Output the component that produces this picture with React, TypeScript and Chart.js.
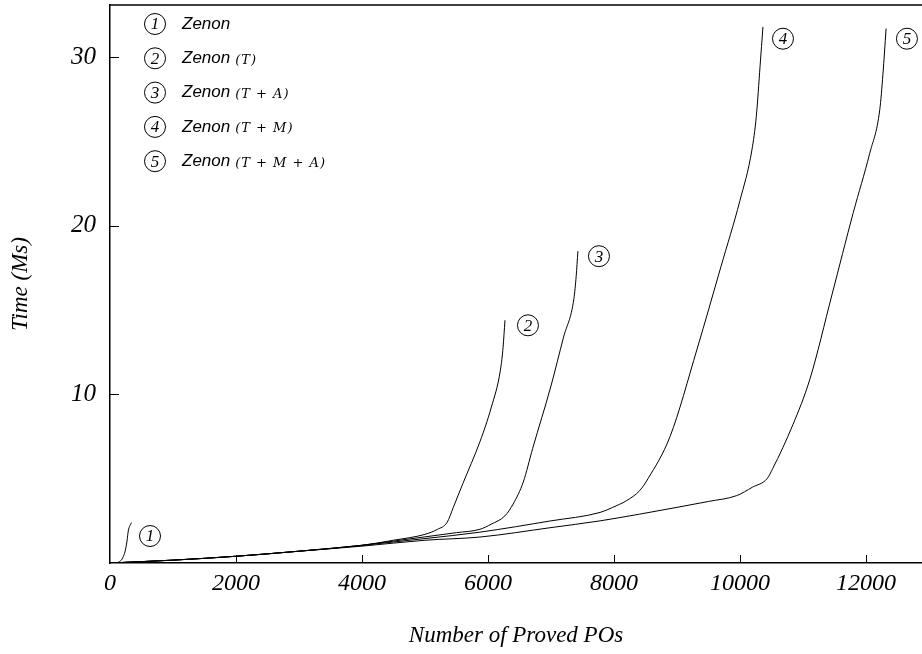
import React, { useEffect, useRef } from 'react';
import { Chart, registerables } from 'chart.js';

Chart.register(...registerables);

const xTicks = [0, 2000, 4000, 6000, 8000, 10000, 12000];
const yTicks = [10, 20, 30];
const xMax = 12890;
const yMax = 33.1;

const zenonX = [0, 100, 160, 200, 240, 270, 290, 340];
const zenonY = [0, 0.02, 0.1, 0.3, 0.7, 1.3, 1.9, 2.4];

const zenonTX = [0, 1000, 2000, 3000, 4000, 4500, 5000, 5200, 5350, 5450, 5600, 5873, 6050, 6200, 6240, 6270];
const zenonTY = [0, 0.17, 0.4, 0.7, 1.05, 1.35, 1.7, 2.0, 2.4, 3.3, 4.7, 7.2, 9.2, 11.5, 12.8, 14.4];

const zenonTAX = [0, 1000, 2000, 3000, 4000, 4500, 5000, 5500, 5873, 6050, 6270, 6400, 6560, 6710, 7000, 7200, 7365, 7400, 7428];
const zenonTAY = [0, 0.17, 0.4, 0.7, 1.05, 1.3, 1.55, 1.8, 2.0, 2.3, 2.8, 3.5, 4.8, 6.8, 10.5, 13.4, 15.7, 17.0, 18.5];

const zenonTMX = [0, 1000, 2000, 3000, 4000, 5000, 5873, 7000, 7780, 7980, 8200, 8410, 8540, 8890, 9320, 9700, 10000, 10190, 10260, 10320, 10365];
const zenonTMY = [0, 0.17, 0.4, 0.7, 1.05, 1.45, 1.83, 2.5, 3.0, 3.3, 3.7, 4.3, 5.0, 7.5, 12.7, 17.6, 21.5, 24.5, 26.5, 29.5, 31.8];

const zenonTMAX = [0, 1000, 2000, 3000, 4000, 5000, 5873, 7000, 7780, 8410, 9000, 9500, 9950, 10200, 10430, 10520, 10840, 11110, 11460, 11800, 12060, 12220, 12270, 12320];
const zenonTMAY = [0, 0.17, 0.4, 0.7, 1.0, 1.35, 1.54, 2.1, 2.5, 2.9, 3.3, 3.65, 4.0, 4.5, 5.0, 5.6, 8.2, 10.9, 15.9, 20.8, 24.3, 26.9, 29.0, 31.7];

const seriesNames = ['Zenon', 'Zenon', 'Zenon', 'Zenon', 'Zenon'];
const seriesSuffix = ['', '(T)', '(T + A)', '(T + M)', '(T + M + A)'];
const seriesNumbers = ['1', '2', '3', '4', '5'];
const seriesXs = [zenonX, zenonTX, zenonTAX, zenonTMX, zenonTMAX];
const seriesYs = [zenonY, zenonTY, zenonTAY, zenonTMY, zenonTMAY];

// positions of the circled curve tags, in data units
const tagX = [635, 6635, 7762, 10683, 12651];
const tagY = [1.6, 14.1, 18.2, 31.1, 31.1];

function circled(ctx: CanvasRenderingContext2D, x: number, y: number, num: string) {
  ctx.save();
  ctx.beginPath();
  ctx.arc(x, y, 10.5, 0, Math.PI * 2);
  ctx.lineWidth = 1;
  ctx.strokeStyle = '#000';
  ctx.stroke();
  ctx.fillStyle = '#000';
  ctx.font = "italic 17px 'Liberation Serif'";
  ctx.textAlign = 'center';
  ctx.textBaseline = 'middle';
  ctx.fillText(num, x, y + 1);
  ctx.restore();
}

const decorPlugin = {
  id: 'decor',
  afterDraw(chart: any) {
    const { ctx, chartArea } = chart;
    const xs = chart.scales.x;
    const ys = chart.scales.y;
    ctx.save();
    ctx.strokeStyle = '#000';
    ctx.lineWidth = 1.5;
    ctx.beginPath();
    ctx.moveTo(chartArea.left, chartArea.top);
    ctx.lineTo(chartArea.right, chartArea.top);
    ctx.stroke();
    ctx.lineWidth = 1;
    xTicks.forEach((v) => {
      if (v === 0) return;
      const px = Math.round(xs.getPixelForValue(v)) + 0.5;
      ctx.beginPath();
      ctx.moveTo(px, chartArea.bottom);
      ctx.lineTo(px, chartArea.bottom - 8);
      ctx.stroke();
    });
    yTicks.forEach((v) => {
      const py = Math.round(ys.getPixelForValue(v)) + 0.5;
      ctx.beginPath();
      ctx.moveTo(chartArea.left, py);
      ctx.lineTo(chartArea.left + 9, py);
      ctx.stroke();
    });
    tagX.forEach((tx, i) => {
      circled(ctx, xs.getPixelForValue(tx), ys.getPixelForValue(tagY[i]), seriesNumbers[i]);
    });
    seriesNames.forEach((name, i) => {
      const cy = chartArea.top + 19 + i * 34.3;
      const cx = chartArea.left + 45;
      circled(ctx, cx, cy, seriesNumbers[i]);
      ctx.fillStyle = '#000';
      ctx.textAlign = 'left';
      ctx.textBaseline = 'middle';
      ctx.font = "italic 17px 'Liberation Sans'";
      const tx = cx + 27;
      ctx.fillText(name, tx, cy);
      const w = ctx.measureText(name).width;
      if (seriesSuffix[i]) {
        ctx.font = "italic 13px 'DejaVu Serif'";
        (ctx as any).letterSpacing = '1px';
        ctx.fillText(seriesSuffix[i], tx + w + 5, cy + 2);
        (ctx as any).letterSpacing = '0px';
      }
    });
    ctx.restore();
  },
};

export default function App() {
  const ref = useRef<HTMLCanvasElement | null>(null);
  useEffect(() => {
    document.body.style.margin = '0';
    if (!ref.current) return;
    const datasets = seriesXs.map((xsArr, i) => ({
      label: seriesNames[i] + ' ' + seriesSuffix[i],
      data: xsArr.map((x, j) => ({ x, y: seriesYs[i][j] })),
      borderColor: '#000',
      borderWidth: 1,
      pointRadius: 0,
      fill: false,
      cubicInterpolationMode: 'monotone' as const,
    }));
    const chart = new Chart(ref.current, {
      type: 'line',
      data: { datasets },
      options: {
        animation: false,
        responsive: false,
        devicePixelRatio: 1,
        layout: { padding: { top: 5, right: 0, left: 0, bottom: 0 } },
        plugins: { legend: { display: false }, tooltip: { enabled: false } },
        scales: {
          x: {
            type: 'linear',
            min: 0,
            max: xMax,
            afterBuildTicks: (s: any) => { s.ticks = xTicks.map((v) => ({ value: v })); },
            afterFit: (s: any) => { s.height = 91; s.paddingLeft = 0; s.paddingRight = 0; },
            grid: { display: false, drawTicks: false },
            border: { display: true, color: '#000', width: 1.5 },
            ticks: {
              padding: 6,
              color: '#000',
              font: { family: "'Liberation Serif'", style: 'italic', size: 24 },
              maxRotation: 0,
              autoSkip: false,
              callback: (v: any) => String(v),
            },
            title: {
              display: true,
              text: 'Number of Proved POs',
              color: '#000',
              font: { family: "'Liberation Serif'", style: 'italic', size: 23, lineHeight: 1.2 },
              padding: { top: 0, bottom: 4 },
            },
          },
          y: {
            type: 'linear',
            min: 0,
            max: yMax,
            afterBuildTicks: (s: any) => { s.ticks = yTicks.map((v) => ({ value: v })); },
            afterFit: (s: any) => { s.width = 110; s.paddingTop = 0; s.paddingBottom = 0; },
            grid: { display: false, drawTicks: false },
            border: { display: true, color: '#000', width: 1.5 },
            ticks: {
              padding: 14,
              color: '#000',
              font: { family: "'Liberation Serif'", style: 'italic', size: 25 },
              callback: (v: any) => String(v),
            },
            title: {
              display: true,
              text: 'Time (Ms)',
              color: '#000',
              font: { family: "'Liberation Serif'", style: 'italic', size: 23, lineHeight: 1.2 },
              padding: { top: 7, bottom: 0 },
            },
          },
        },
      },
      plugins: [decorPlugin],
    });
    return () => chart.destroy();
  }, []);
  return (
    <div style={{ width: 922, height: 654 }}>
      <canvas ref={ref} width={922} height={654} style={{ display: 'block' }} />
    </div>
  );
}
